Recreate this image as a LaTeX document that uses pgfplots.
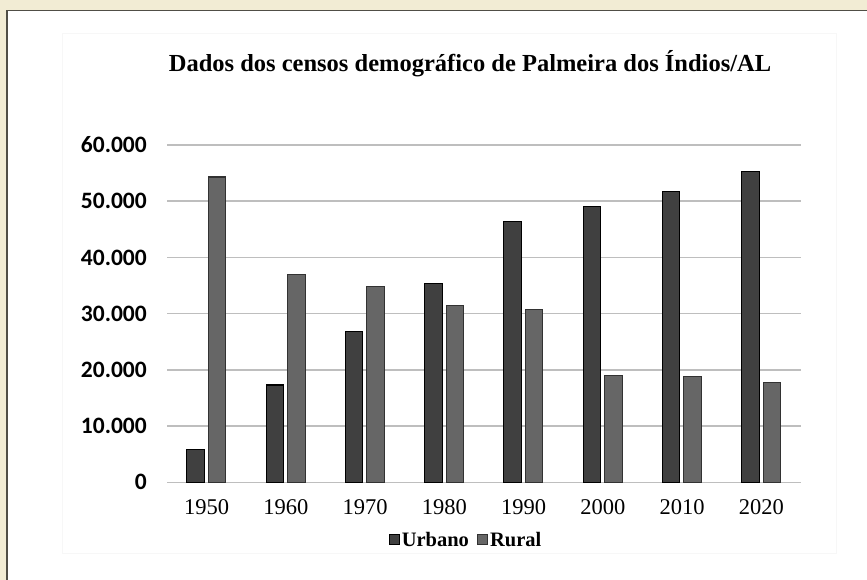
\documentclass[border=0pt]{standalone}
\usepackage{fontspec}
\setmainfont{Liberation Serif}
\newfontfamily\calfont{Carlito}
\usepackage{pgfplots}
\pgfplotsset{compat=1.18}
\definecolor{cream}{RGB}{242,236,212}
\definecolor{panelborder}{RGB}{80,78,70}
\definecolor{urb}{RGB}{64,64,64}
\definecolor{rur}{RGB}{102,102,102}
\definecolor{rurdraw}{RGB}{50,50,50}
\definecolor{gridc}{RGB}{190,190,190}
\begin{document}
\begin{tikzpicture}[x=1pt,y=1pt]
\useasboundingbox (0,0) rectangle (867,-580);
\fill[cream] (0,0) rectangle (867,-580);
\fill[white] (7,-10.5) rectangle (867,-580);
\draw[panelborder, line width=1.6pt] (7,-581) -- (7,-10.5) -- (868,-10.5);
\draw[black!3, line width=0.8pt] (62,-33) rectangle (836,-553);
\node[font=\bfseries\fontsize{24.5}{28}\selectfont] at (470,-64) {Dados dos censos demográfico de Palmeira dos Índios/AL};
\begin{axis}[
  at={(167pt,-482.3pt)}, anchor=south west,
  scale only axis, width=634pt, height=337.3pt,
  xmin=-0.5, xmax=7.5, ymin=0, ymax=60000,
  scaled y ticks=false,
  axis line style={draw=none},
  major tick length=0pt,
  xtick={0,...,7},
  xticklabels={1950,1960,1970,1980,1990,2000,2010,2020},
  ytick={0,10000,20000,30000,40000,50000,60000},
  yticklabels={0,10.000,20.000,30.000,40.000,50.000,60.000},
  yticklabel style={font=\calfont\bfseries\fontsize{23.5}{26}\selectfont, inner sep=0pt, anchor=east, xshift=-20pt},
  xticklabel style={font=\fontsize{22.5}{25}\selectfont, inner sep=0pt, anchor=north, yshift=-17pt},
  ymajorgrids, grid style={gridc, line width=1.6pt},
  ybar, bar width=17.5pt,
  legend style={at={(0.4716,-0.171)}, anchor=center, draw=none, fill=none,
    legend columns=2, font=\bfseries\fontsize{20.5}{22}\selectfont,
    /tikz/every even column/.append style={column sep=6pt}},
  legend image code/.code={\fill[#1] (0pt,-4.5pt) rectangle (10pt,5.5pt);},
]
\addplot[fill=urb, draw=black, line width=1.2pt, bar shift=-11pt]
  coordinates {(0,5900) (1,17300) (2,26800) (3,35400) (4,46400) (5,49000) (6,51700) (7,55300)};
\addlegendentry{Urbano}
\addplot[fill=rur, draw=rurdraw, line width=1.2pt, bar shift=10.5pt]
  coordinates {(0,54300) (1,37000) (2,34900) (3,31500) (4,30800) (5,19000) (6,18800) (7,17800)};
\addlegendentry{Rural}
\end{axis}
\end{tikzpicture}
\end{document}
